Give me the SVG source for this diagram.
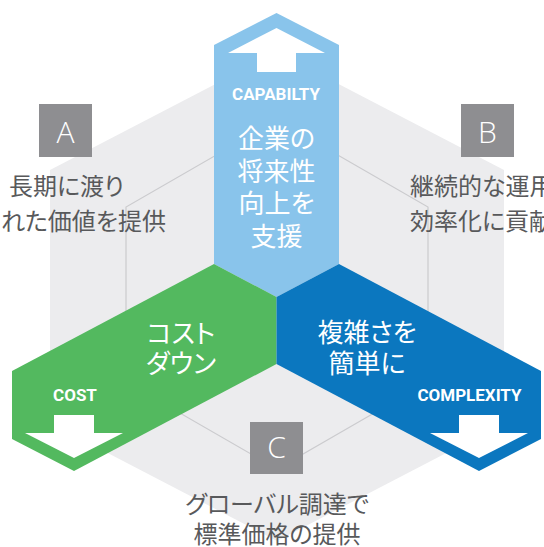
<svg xmlns="http://www.w3.org/2000/svg" width="544" height="547" viewBox="0 0 544 547">
<style>
.bg{fill:#ececee}
.inner{fill:none;stroke:#cbcbce;stroke-width:1.2}
.box{fill:#8e8e91}
.letter{font-family:"Open Sans","Liberation Sans",sans-serif;font-weight:300;font-size:30px;fill:#fff;text-anchor:middle}
.gt{font-family:"Noto Sans CJK JP",sans-serif;font-size:24px;fill:#58595b;font-feature-settings:"palt"}
.wt{font-family:"Noto Sans CJK JP",sans-serif;font-size:26px;fill:#fff;text-anchor:middle;font-feature-settings:"palt"}
.en{font-family:Roboto,"Liberation Sans",sans-serif;font-weight:700;font-size:17px;fill:#fff;text-anchor:middle}
.arrow{fill:#fff}
</style>
<g id="background">
<polygon class="bg" points="277,52 504,170 504,423 277,541 50,423 50,170"/>
<polygon class="inner" points="277,120 428,207 428,382 277,469 126,382 126,207"/>
</g>
<g id="connectors"/>
<g id="capability">
<polygon fill="#89c4eb" points="214,45 276.5,13 339,45 339,264 276.5,297 214,264"/>
<polygon class="arrow" points="276.5,28 325,53 296,53 296,72 257,72 257,53 228,53"/>
<text class="en" x="276" y="100">CAPABILTY</text>
<text class="wt" x="276.5" y="148" font-size="27">企業の</text>
<text class="wt" x="276.5" y="181" font-size="27">将来性</text>
<text class="wt" x="276.5" y="213" font-size="27">向上を</text>
<text class="wt" x="276.5" y="246" font-size="27">支援</text>
</g>
<g id="cost">
<polygon fill="#53b95f" points="214,264 276.5,297 276.5,364 74,471 12,439 12,371"/>
<polygon class="arrow" points="54,415 94,415 94,433 123,433 74,458 25,433 54,433"/>
<text class="en" x="75" y="401">COST</text>
<text class="wt" x="181" y="343">コスト</text>
<text class="wt" x="181" y="373">ダウン</text>
</g>
<g id="complexity">
<polygon fill="#0b77bf" points="339,264 276.5,297 276.5,364 479,471 541,439 541,371"/>
<polygon class="arrow" points="459,415 499,415 499,433 528,433 479,458 430,433 459,433"/>
<text class="en" x="469.5" y="401">COMPLEXITY</text>
<text class="wt" x="367" y="342">複雑さを</text>
<text class="wt" x="367" y="373">簡単に</text>
</g>
<g id="label-a">
<rect class="box" x="39" y="104" width="53" height="53"/>
<text class="letter" x="65.5" y="143">A</text>
<text class="gt" x="66.5" y="195" text-anchor="middle">長期に渡り</text>
<text class="gt" x="166" y="230" text-anchor="end">れた価値を提供</text>
</g>
<g id="label-b">
<rect class="box" x="461" y="104" width="53" height="53"/>
<text class="letter" x="487.5" y="143">B</text>
<text class="gt" x="410" y="195">継続的な運用</text>
<text class="gt" x="410" y="230">効率化に貢献</text>
</g>
<g id="label-c">
<rect class="box" x="250" y="422" width="53" height="52"/>
<text class="letter" x="276.5" y="458">C</text>
<text class="gt" x="277" y="513" text-anchor="middle" font-size="25">グローバル調達で</text>
<text class="gt" x="277" y="543" text-anchor="middle" font-size="25">標準価格の提供</text>
</g>
</svg>
